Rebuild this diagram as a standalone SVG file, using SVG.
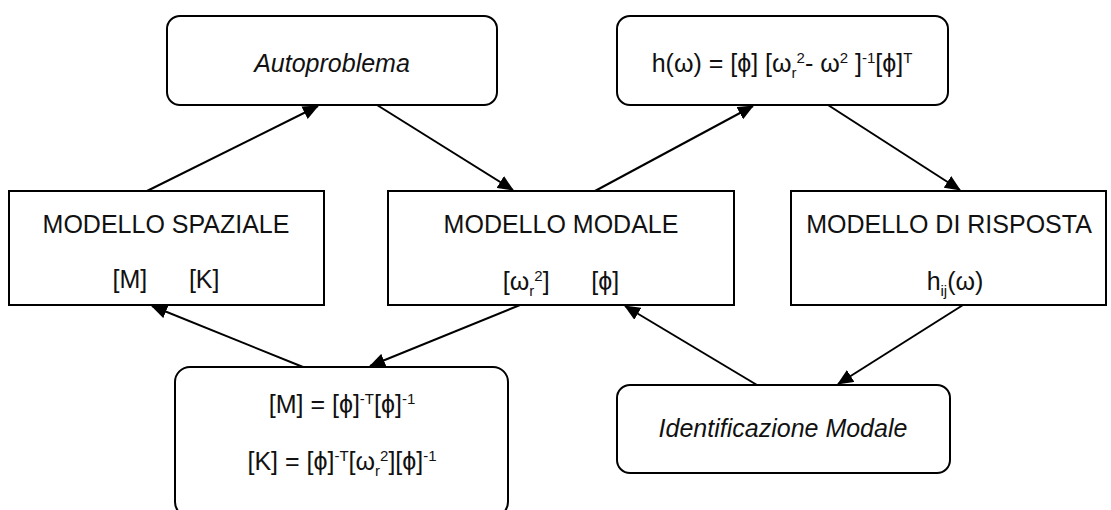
<svg xmlns="http://www.w3.org/2000/svg" width="1111" height="510" viewBox="0 0 1111 510">
<style>
.box{fill:#fff;stroke:#000;stroke-width:2}
.t{font-family:"Liberation Sans",Arial,sans-serif;font-size:25px;fill:#111;text-anchor:middle}
.i{font-style:italic}
.s{font-size:15px}
.c{stroke:#000;stroke-width:2;fill:none;marker-end:url(#ah)}
</style>
<defs>
<marker id="ah" markerUnits="userSpaceOnUse" markerWidth="16" markerHeight="14" refX="15" refY="7" orient="auto">
<path d="M0,0 L16,7 L0,14 Z" fill="#000"/>
</marker>
</defs>
<g id="connectors">
<line class="c" x1="147" y1="191" x2="318" y2="106"/>
<line class="c" x1="377" y1="105" x2="513" y2="190"/>
<line class="c" x1="595" y1="191" x2="753" y2="106"/>
<line class="c" x1="828" y1="105" x2="960" y2="190"/>
<line class="c" x1="963" y1="305" x2="838" y2="384"/>
<line class="c" x1="757" y1="385" x2="625" y2="306"/>
<line class="c" x1="520" y1="305" x2="370" y2="366"/>
<line class="c" x1="303" y1="367" x2="152" y2="306"/>
</g>
<g id="autoproblema">
<rect class="box" x="167" y="16" width="330" height="89" rx="13"/>
<text class="t i" x="332" y="72">Autoproblema</text>
</g>
<g id="frf">
<rect class="box" x="617" y="16" width="331" height="89" rx="13"/>
<text class="t" x="782" y="72">h(ω) = [ϕ] [ω<tspan class="s" dy="6">r</tspan><tspan class="s" dy="-15">2</tspan><tspan dy="9">- ω</tspan><tspan class="s" dy="-9">2</tspan><tspan dy="9"> ]</tspan><tspan class="s" dy="-9">-1</tspan><tspan dy="9">[ϕ]</tspan><tspan class="s" dy="-9">T</tspan></text>
</g>
<g id="spaziale">
<rect class="box" x="9" y="191" width="315" height="114"/>
<text class="t" x="166" y="233">MODELLO SPAZIALE</text>
<text class="t" x="166" y="288" xml:space="preserve">[M]      [K]</text>
</g>
<g id="modale">
<rect class="box" x="388" y="191" width="346" height="114"/>
<text class="t" x="561" y="233">MODELLO MODALE</text>
<text class="t" x="561" y="290" xml:space="preserve">[ω<tspan class="s" dy="6">r</tspan><tspan class="s" dy="-15">2</tspan><tspan dy="9">]      [ϕ]</tspan></text>
</g>
<g id="risposta">
<rect class="box" x="791" y="191" width="315" height="114"/>
<text class="t" x="949" y="233">MODELLO DI RISPOSTA</text>
<text class="t" x="955" y="290">h<tspan class="s" dy="6">ij</tspan><tspan dy="-6">(ω)</tspan></text>
</g>
<g id="inversione">
<rect class="box" x="175" y="367" width="333" height="150" rx="15"/>
<text class="t" x="342" y="413">[M] = [ϕ]<tspan class="s" dy="-9">-T</tspan><tspan dy="9">[ϕ]</tspan><tspan class="s" dy="-9">-1</tspan></text>
<text class="t" x="342" y="470">[K] = [ϕ]<tspan class="s" dy="-9">-T</tspan><tspan dy="9">[ω</tspan><tspan class="s" dy="6">r</tspan><tspan class="s" dy="-15">2</tspan><tspan dy="9">][ϕ]</tspan><tspan class="s" dy="-9">-1</tspan></text>
</g>
<g id="identificazione">
<rect class="box" x="617" y="385" width="333" height="88" rx="13"/>
<text class="t i" x="783" y="437">Identificazione Modale</text>
</g>
</svg>
